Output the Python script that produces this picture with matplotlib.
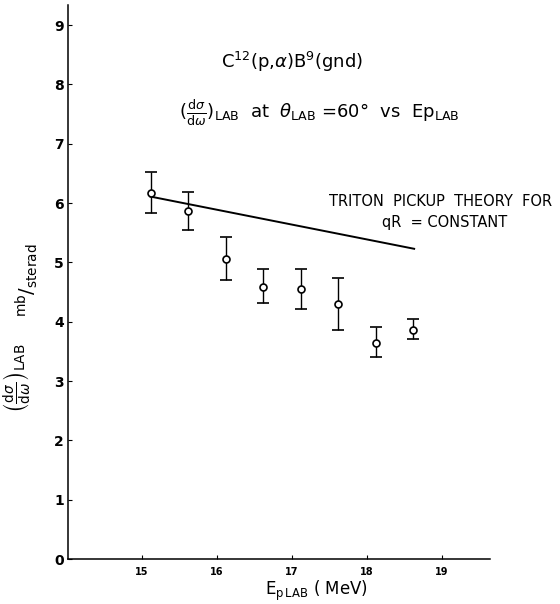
import matplotlib.pyplot as plt

# data
energy = [15.12, 15.62, 16.12, 16.62, 17.12, 17.62, 18.12, 18.62]
xsec = [6.17, 5.86, 5.05, 4.59, 4.55, 4.30, 3.65, 3.86]
err_lo = [0.33, 0.32, 0.35, 0.28, 0.34, 0.44, 0.25, 0.15]
err_hi = [0.35, 0.32, 0.38, 0.30, 0.34, 0.44, 0.26, 0.18]

theory_e = [15.12, 18.63]
theory_xs = [6.11, 5.23]

xticks = [15, 16, 17, 18, 19]
yticks = [0, 1, 2, 3, 4, 5, 6, 7, 8, 9]

plt.rcParams['font.family'] = ['DejaVu Sans']

fig = plt.figure(figsize=(5.6, 6.04), dpi=100)
ax = fig.add_axes([0.1214, 0.0745, 0.7536, 0.9172])

ax.plot(theory_e, theory_xs, color='black', lw=1.4)
ax.errorbar(energy, xsec, yerr=[err_lo, err_hi], fmt='o', mfc='white', mec='black',
            ms=5, mew=1.2, ecolor='black', elinewidth=1.0, capsize=4.5, capthick=1.0)

ax.set_xlim(14.02, 19.64)
ax.set_ylim(0, 9.34)
ax.set_xticks(xticks)
ax.set_yticks(yticks)
ax.tick_params(direction='in', length=3, width=0.8)
ax.tick_params(axis='y', labelsize=10, pad=3)
ax.tick_params(axis='x', labelsize=7, pad=6)
for lab in ax.get_xticklabels() + ax.get_yticklabels():
    lab.set_fontweight('bold')
for s in ['top', 'right']:
    ax.spines[s].set_visible(False)
for s in ['left', 'bottom']:
    ax.spines[s].set_linewidth(1.1)

fig.text(0.566, 0.0215, r'E$_{\mathrm{p\,LAB}}$ ( MeV)', ha='center', va='center', fontsize=12)

fig.text(0.521, 0.897, r'C$^{12}$(p,$\alpha$)B$^{9}$(gnd)', ha='center', va='center', fontsize=13)
fig.text(0.571, 0.812,
         r'$(\frac{\mathrm{d}\sigma}{\mathrm{d}\omega})_{\mathrm{LAB}}$  at  $\theta_{\mathrm{LAB}}$ =60$\degree$  vs  Ep$_{\mathrm{LAB}}$',
         ha='center', va='center', fontsize=13)
fig.text(0.588, 0.666, 'TRITON  PICKUP  THEORY  FOR', ha='left', va='center', fontsize=10.5)
fig.text(0.682, 0.632, 'qR  = CONSTANT', ha='left', va='center', fontsize=10.5)

fig.text(0.032, 0.374, r'$\left(\frac{\mathrm{d}\sigma}{\mathrm{d}\omega}\right)_{\mathrm{LAB}}$', rotation=90,
         ha='center', va='center', fontsize=14)
fig.text(0.048, 0.536, r'$^{\mathrm{mb}}/_{\mathrm{sterad}}$', rotation=90,
         ha='center', va='center', fontsize=14)

fig.savefig('out.png', dpi=100)
